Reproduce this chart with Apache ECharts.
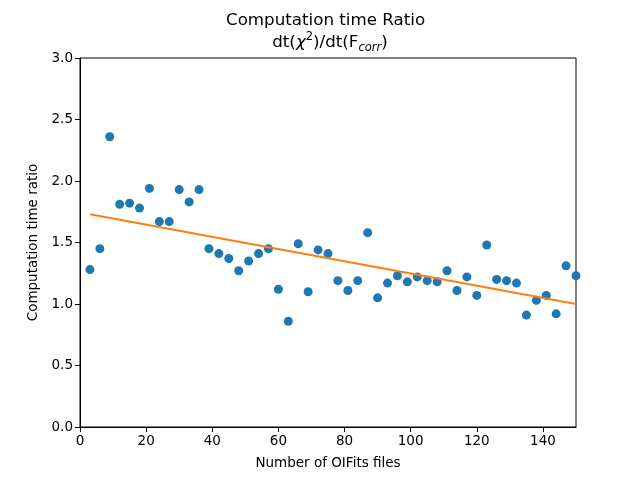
<!DOCTYPE html>
<html><head><meta charset="utf-8">
<script src="https://cdn.jsdelivr.net/npm/echarts@6/dist/echarts.min.js"></script>
<style>html,body{margin:0;padding:0;background:#fff}#c{width:640px;height:480px}</style>
</head><body><div id="c"></div>
<script>
const nFiles = [3,6,9,12,15,18,21,24,27,30,33,36,39,42,45,48,51,54,57,60,63,66,69,72,75,78,81,84,87,90,93,96,99,102,105,108,111,114,117,120,123,126,129,132,135,138,141,144,147,150];
const ratio = [1.28,1.45,2.36,1.81,1.82,1.78,1.94,1.67,1.67,1.93,1.83,1.93,1.45,1.41,1.37,1.27,1.35,1.41,1.45,1.12,0.86,1.49,1.10,1.44,1.41,1.19,1.11,1.19,1.58,1.05,1.17,1.23,1.18,1.22,1.19,1.18,1.27,1.11,1.22,1.07,1.48,1.20,1.19,1.17,0.91,1.03,1.07,0.92,1.31,1.23];
const fitX = [3,150];
const fitY = [1.73,1.00];
const xTicks = [0,20,40,60,80,100,120,140];
const yTicks = [0,0.5,1.0,1.5,2.0,2.5,3.0];

const font = 'DejaVu Sans';
const chart = echarts.init(document.getElementById('c'), null, {renderer:'canvas'});
chart.setOption({
  animation:false,
  textStyle:{fontFamily:font},
  graphic:[
    {type:'text',left:226,top:12,style:{text:'Computation time Ratio',font:'16.7px "DejaVu Sans"',fill:'#000'}},
  ],
  title:{
    left:325, top:26, textAlign:'center',
    text:'{n|dt(}{i|χ}{sup|2}{n|)/dt(F}{sub|corr}{n|)}',
    textStyle:{fontFamily:font,fontSize:16.7,fontWeight:'normal',color:'#000',lineHeight:23,
      rich:{
        n:{fontFamily:font,fontSize:16.7,color:'#000',lineHeight:23},
        i:{fontFamily:font,fontSize:16.7,fontStyle:'italic',color:'#000',lineHeight:23},
        sup:{fontFamily:font,fontSize:11.5,color:'#000',verticalAlign:'top',lineHeight:23,padding:[0,0,6,0]},
        sub:{fontFamily:font,fontSize:11.5,fontStyle:'italic',color:'#000',verticalAlign:'bottom',lineHeight:23,padding:[6,0,0,0]}
      }}
  },
  grid:{left:80,right:64,top:58,bottom:53,show:true,borderColor:'#000',borderWidth:1,backgroundColor:'transparent'},
  xAxis:{type:'value',min:0,max:150,interval:20,
    name:'Number of OIFits files',nameLocation:'middle',nameGap:29,
    nameTextStyle:{fontFamily:font,fontSize:13.5,color:'#000'},
    axisLine:{show:true,lineStyle:{color:'#000',width:1}},
    axisTick:{show:true,length:5,lineStyle:{color:'#000'},customValues:xTicks},
    axisLabel:{fontFamily:font,fontSize:13.5,color:'#000',margin:7,customValues:xTicks},
    splitLine:{show:false}},
  yAxis:{type:'value',min:0,max:3,interval:0.5,
    name:'Computation time ratio',nameLocation:'middle',nameGap:40,
    nameTextStyle:{fontFamily:font,fontSize:13.5,color:'#000'},
    axisLine:{show:true,lineStyle:{color:'#000',width:1}},
    axisTick:{show:true,length:5,lineStyle:{color:'#000'},customValues:yTicks},
    axisLabel:{fontFamily:font,fontSize:13.5,color:'#000',margin:7,formatter:v=>v.toFixed(1),customValues:yTicks},
    splitLine:{show:false}},
  series:[
    {type:'scatter',data:nFiles.map((x,i)=>[x,ratio[i]]),symbolSize:9,itemStyle:{color:'#1f77b4',opacity:1},z:3},
    {type:'line',data:fitX.map((x,i)=>[x,fitY[i]]),showSymbol:false,lineStyle:{color:'#ff7f0e',width:2},z:4}
  ]
});
</script></body></html>
